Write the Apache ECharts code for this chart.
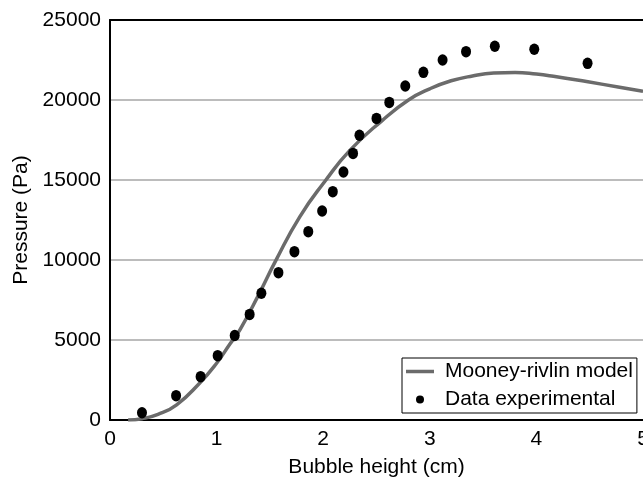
<!DOCTYPE html>
<html>
<head>
<meta charset="utf-8">
<script src="https://cdn.jsdelivr.net/npm/echarts@6/dist/echarts.min.js"></script>
<style>html,body{margin:0;padding:0;background:#fff}#c{width:643px;height:478px}</style>
</head>
<body>
<div id="c"></div>
<script>
// Mooney-rivlin model curve (x cm, y Pa)
const modelX = [0.17,0.30,0.45,0.625,0.84,1.00,1.125,1.22,1.40,1.55,1.78,2.02,2.25,2.55,2.80,3.00,3.20,3.40,3.60,3.80,4.00,4.16,4.47,4.78,5.00];
const modelY = [0,80,350,950,2300,3550,4750,5650,7900,9900,12700,14950,16850,18700,20000,20700,21200,21500,21680,21720,21620,21480,21150,20800,20550];
// Experimental data
const expX = [0.30,0.62,0.85,1.01,1.17,1.31,1.42,1.58,1.73,1.86,1.99,2.09,2.19,2.28,2.34,2.50,2.62,2.77,2.94,3.12,3.34,3.61,3.98,4.48];
const expY = [450,1520,2710,4020,5280,6600,7920,9210,10520,11770,13060,14270,15500,16660,17800,18850,19850,20875,21730,22500,23020,23360,23170,22290];
const xTicks = [0,1,2,3,4,5];
const yTicks = [0,5000,10000,15000,20000,25000];

const FONT = 'Liberation Sans, Arial, sans-serif';
const FS = 21;
const chart = echarts.init(document.getElementById('c'), null, {renderer:'canvas'});
chart.setOption({
  animation: false,
  backgroundColor: '#fff',
  grid: {left: 110, top: 20, right: 0, bottom: 58, containLabel: false, outerBoundsMode: 'none'},
  legend: {
    orient: 'vertical', left: 402, top: 358,
    backgroundColor: '#fff', borderColor: '#000', borderWidth: 1,
    padding: [3, 4, 3, 4], itemGap: 7, itemWidth: 28, itemHeight: 8,
    textStyle: {fontFamily: FONT, fontSize: FS, color: '#000', padding: [0,0,0,6]},
    data: [
      {name: 'Mooney-rivlin model', icon: 'path://M0,0H28V3.5H0Z'},
      {name: 'Data experimental', icon: 'circle'}
    ]
  },
  xAxis: [{
    type: 'value', min: xTicks[0], max: xTicks[xTicks.length-1], interval: 1,
    name: 'Bubble height (cm)', nameLocation: 'middle', nameGap: 37,
    nameTextStyle: {fontFamily: FONT, fontSize: FS, color: '#000'},
    axisLine: {show: true, onZero: false, lineStyle: {color: '#000', width: 2}},
    axisTick: {show: false}, splitLine: {show: false},
    axisLabel: {fontFamily: FONT, fontSize: FS, color: '#000', margin: 9, showMaxLabel: true,
      formatter: v => String(v)}
  }, {
    type: 'value', position: 'top', min: 0, max: 5,
    axisLine: {show: true, onZero: false, lineStyle: {color: '#000', width: 2}},
    axisTick: {show: false}, axisLabel: {show: false}, splitLine: {show: false}
  }],
  yAxis: {
    type: 'value', min: yTicks[0], max: yTicks[yTicks.length-1], interval: 5000,
    name: 'Pressure (Pa)', nameLocation: 'middle', nameGap: 76, nameRotate: 90,
    nameTextStyle: {fontFamily: FONT, fontSize: FS, color: '#000'},
    axisLine: {show: true, lineStyle: {color: '#000', width: 2}},
    axisTick: {show: false},
    splitLine: {show: true, lineStyle: {color: '#a6a6a6', width: 1.5}},
    axisLabel: {fontFamily: FONT, fontSize: FS, color: '#000', margin: 9,
      formatter: v => String(v)}
  },
  series: [{
    name: 'Mooney-rivlin model', type: 'line', smooth: 0.5, symbol: 'none',
    lineStyle: {color: '#6b6b6b', width: 3.5}, itemStyle: {color: '#6b6b6b'},
    data: modelX.map((x, i) => [x, modelY[i]]), z: 2
  }, {
    name: 'Data experimental', type: 'scatter', symbol: 'circle', symbolSize: [10, 11.5],
    itemStyle: {color: '#000', opacity: 1},
    data: expX.map((x, i) => [x, expY[i]]), z: 3
  }]
});
</script>
</body>
</html>
